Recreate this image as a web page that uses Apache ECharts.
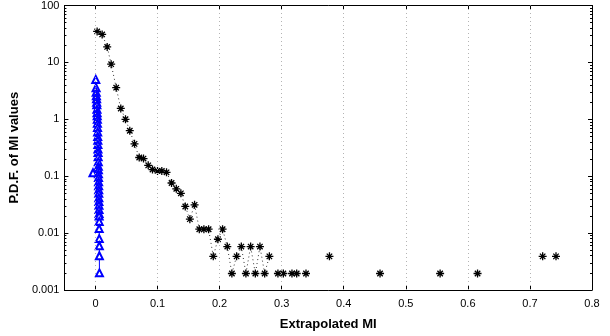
<!DOCTYPE html>
<html>
<head>
<meta charset="utf-8">
<script src="https://cdn.jsdelivr.net/npm/echarts@6/dist/echarts.min.js"></script>
<style>
  html, body { margin: 0; padding: 0; background: #fff; }
  #chart { width: 610px; height: 336px; }
</style>
</head>
<body>
<div id="chart"></div>
<script>
// extrapolated MI histogram (black asterisks); null = empty bin, breaks the dotted line
var miX = [0.0027, 0.0108, 0.0189, 0.0253, 0.0334, 0.0408, 0.0484, 0.0553, 0.0629, 0.0705,
  0.0774, 0.085, 0.0919, 0.1, 0.1069, 0.1145, 0.1226, 0.1302, 0.1376, 0.1447,
  0.1521, 0.1597, 0.1673, 0.1747, 0.1823, 0.1898, 0.1973, 0.2048, 0.2124, 0.2198,
  0.2274, 0.235, 0.2424, 0.25, 0.2576, 0.265, 0.2726, 0.2802, 0.287, 0.294,
  0.3027, 0.31, 0.3166, 0.3242, 0.332, 0.3392, 0.36, 0.377, 0.42, 0.4585,
  0.51, 0.5553, 0.59, 0.6156, 0.67, 0.7205, 0.73, 0.742];
var miPdf = [35, 31, 18.7, 9.3, 3.6, 1.55, 1.0, 0.63, 0.37, 0.213,
  0.204, 0.155, 0.131, 0.124, 0.124, 0.117, 0.076, 0.060, 0.050, 0.0294,
  0.0176, 0.0314, 0.0117, 0.0117, 0.0117, 0.0039, 0.0078, 0.0117, 0.0058, 0.00195,
  0.0039, 0.0058, 0.00195, 0.0058, 0.00195, 0.0058, 0.00195, 0.0039, null, 0.00195,
  0.00195, null, 0.00195, 0.00195, null, 0.00195, null, 0.0039, null, 0.00195,
  null, 0.00195, null, 0.00195, null, 0.0039, null, 0.0039];

// blue triangles (narrow distribution near zero)
var shufX = [0.0005, 0.001, 0.0012, 0.0015, 0.0018, 0.002, 0.0022, 0.0024, 0.0026, 0.0028,
  0.003, 0.0031, 0.0033, 0.0035, 0.0036, 0.0038, 0.0039, 0.004, 0.0042, 0.0043,
  0.0045, 0.0046, 0.0047, -0.004, 0.0048, 0.0049, 0.005, 0.0051, 0.0052, 0.0053,
  0.0054, 0.0055, 0.0056, 0.0057, 0.0058, 0.0059, 0.006, 0.006, 0.0061, 0.0062,
  0.0063, 0.0064];
var shufPdf = [5.0, 3.6, 3.0, 2.6, 2.3, 2.0, 1.8, 1.5, 1.3, 1.15,
  1.0, 0.85, 0.72, 0.6, 0.5, 0.43, 0.36, 0.3, 0.26, 0.22,
  0.18, 0.15, 0.13, 0.115, 0.11, 0.095, 0.08, 0.068, 0.058, 0.05,
  0.042, 0.036, 0.031, 0.026, 0.022, 0.02, 0.016, 0.012, 0.008, 0.006,
  0.004, 0.002];

var xTicks = [0, 0.1, 0.2, 0.3, 0.4, 0.5, 0.6, 0.7, 0.8];
var xGridLines = [0, 0.1, 0.2, 0.3, 0.4, 0.5, 0.6, 0.7];
var yMinorMult = [2, 3, 4, 5, 6, 7, 8, 9];

var FONT = 'Liberation Sans';
var GRID_GRAY = '#b4b4b4';

// log10 positions of the minor ticks (2..9 of every decade)
var yMinor = [];
for (var d = -3; d < 2; d++) {
    yMinorMult.forEach(function (m) { yMinor.push(Math.log10(m) + d); });
}

var asterisk = 'path://M5,0L5,10M0,5L10,5M1.6,1.6L8.4,8.4M1.6,8.4L8.4,1.6';

function xAxisBase(pos) {
    return {
        type: 'value', position: pos, min: -0.05, max: 0.8,
        axisLine: { show: true, onZero: false, lineStyle: { color: '#000', width: 1 } },
        axisTick: { show: true, inside: true, length: 4, customValues: xTicks, lineStyle: { color: '#000' } },
        axisLabel: { show: pos === 'bottom', customValues: xTicks, margin: 8, color: '#000',
            fontFamily: FONT, fontSize: 11,
            formatter: function (v) { return String(+v.toFixed(1)); } },
        splitLine: { show: false }
    };
}

function yLogAxis(pos) {
    return {
        type: 'log', logBase: 10, position: pos, min: 0.001, max: 100,
        axisLine: { show: true, onZero: false, lineStyle: { color: '#000', width: 1 } },
        axisTick: { show: true, inside: true, length: 4, lineStyle: { color: '#000' } },
        axisLabel: { show: pos === 'left', margin: 5, color: '#000', fontFamily: FONT, fontSize: 11 },
        splitLine: { show: false }
    };
}

// minor ticks live on a plain value axis in log10 units
function yMinorAxis(pos) {
    return {
        type: 'value', position: pos, min: -3, max: 2,
        axisLine: { show: false, onZero: false },
        axisTick: { show: true, inside: true, length: 2, customValues: yMinor, lineStyle: { color: '#000' } },
        axisLabel: { show: false },
        splitLine: { show: false }
    };
}

var yLeft = yLogAxis('left');
yLeft.name = 'P.D.F. of MI values';
yLeft.nameLocation = 'middle';
yLeft.nameGap = 39;
yLeft.nameTextStyle = { color: '#000', fontFamily: FONT, fontSize: 13, fontWeight: 'bold' };

var xBottom = xAxisBase('bottom');
xBottom.name = 'Extrapolated MI';
xBottom.nameLocation = 'middle';
xBottom.nameGap = 28;
xBottom.nameTextStyle = { color: '#000', fontFamily: FONT, fontSize: 13, fontWeight: 'bold' };

var chart = echarts.init(document.getElementById('chart'), null, { renderer: 'canvas' });
chart.setOption({
    animation: false,
    backgroundColor: '#fff',
    grid: { left: 64, right: 18, top: 5, bottom: 38 },
    xAxis: [xBottom, xAxisBase('top')],
    yAxis: [yLeft, yLogAxis('right'), yMinorAxis('left'), yMinorAxis('right')],
    series: [
        {
            // dotted vertical grid lines
            type: 'line', data: [], silent: true, z: 1, color: GRID_GRAY,
            markLine: {
                silent: true, symbol: ['none', 'none'], label: { show: false },
                lineStyle: { color: GRID_GRAY, type: [1, 3], width: 1 },
                emphasis: { disabled: true },
                data: xGridLines.map(function (v) {
                    return { xAxis: v, lineStyle: { color: GRID_GRAY, type: [1, 3], width: 1 } };
                })
            }
        },
        {
            type: 'line', z: 3,
            data: miX.map(function (x, i) { return [x, miPdf[i] == null ? '-' : miPdf[i]]; }),
            connectNulls: false,
            symbol: asterisk, symbolSize: 8, showAllSymbol: true,
            itemStyle: { color: '#000', borderColor: '#000', borderWidth: 1.3 },
            lineStyle: { color: '#000', width: 0.8, type: [1, 3] }
        },
        {
            type: 'line', z: 4,
            data: shufX.map(function (x, i) { return [x, shufPdf[i]]; }),
            symbol: 'emptyTriangle', symbolSize: 7, showAllSymbol: true,
            itemStyle: { color: '#0000ff', borderColor: '#0000ff', borderWidth: 1 },
            lineStyle: { color: '#0000ff', width: 1 }
        }
    ]
});
</script>
</body>
</html>
